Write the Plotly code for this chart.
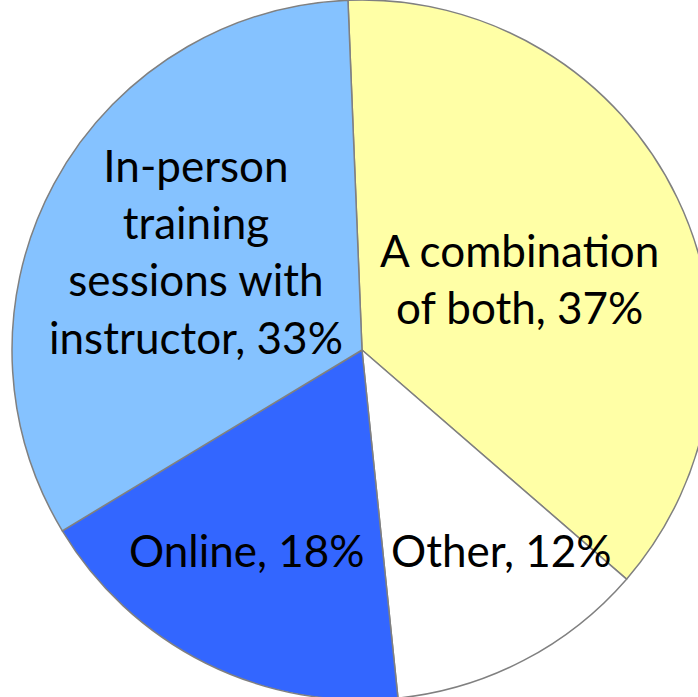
import plotly.graph_objects as go

# slice data, clockwise from just left of 12 o'clock
labels = ["A combination of both", "Other", "Online", "In-person training sessions with instructor"]
values = [37, 12, 18, 33]
label_lines = ["A combination<br>of both", "Other", "Online", "In-person<br>training<br>sessions with<br>instructor"]
colors = ["#FFFFA6", "#FFFFFF", "#3366FF", "#85C2FF"]

# label centres in pixels (figure is 724x700, page clipped to the window)
FIG_W, FIG_H = 724, 700
label_px = [(519, 278), (502, 550), (247, 550), (196, 251)]

fig = go.Figure(
    go.Pie(
        labels=labels,
        values=values,
        sort=False,
        direction="clockwise",
        rotation=-2.3,
        marker=dict(colors=colors, line=dict(color="#808080", width=1.5)),
        textinfo="none",
        hoverinfo="label+percent",
        showlegend=False,
        domain=dict(x=[0, 1], y=[0, 1]),
    )
)

for lines, v, (px, py) in zip(label_lines, values, label_px):
    fig.add_annotation(
        text=f"{lines}, {v}%",
        x=px / FIG_W,
        y=1 - py / FIG_H,
        xref="paper",
        yref="paper",
        showarrow=False,
        xanchor="center",
        yanchor="middle",
        align="center",
        font=dict(family="Lato, Carlito, sans-serif", size=44, color="black"),
    )

fig.update_layout(
    width=FIG_W,
    height=FIG_H,
    margin=dict(l=0, r=0, t=0, b=0),
    paper_bgcolor="white",
    plot_bgcolor="white",
)

fig.write_html(
    "out.html",
    config={"displayModeBar": False},
    post_script="document.body.style.margin='0';document.body.style.overflow='hidden';",
)
